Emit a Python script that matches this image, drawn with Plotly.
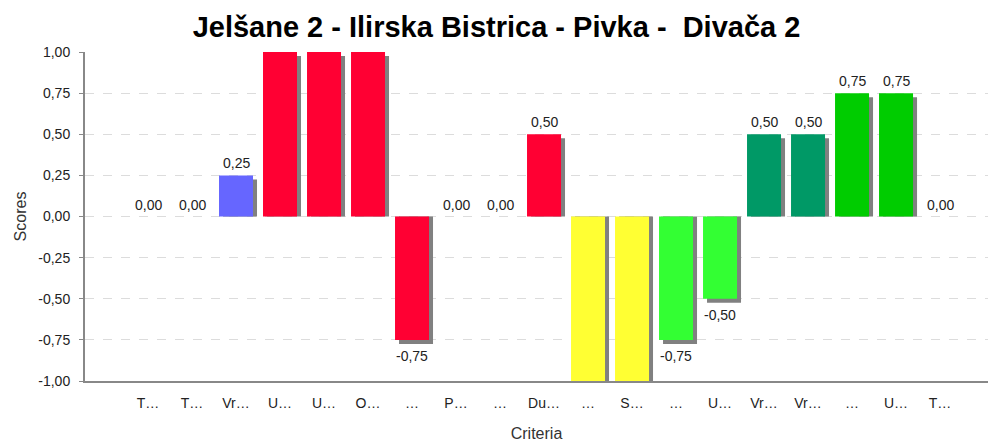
import plotly.graph_objects as go

# Criteria (abbreviated as they appear on the axis) and their scores
criteria = ["T…", "T…", "Vr…", "U…", "U…", "O…", "…", "P…", "…", "Du…",
            "…", "S…", "…", "U…", "Vr…", "Vr…", "…", "U…", "T…"]
scores = [0.00, 0.00, 0.25, 1.00, 1.00, 1.00, -0.75, 0.00, 0.00, 0.50,
          -1.00, -1.00, -0.75, -0.50, 0.50, 0.50, 0.75, 0.75, 0.00]
colors = ["#6666FF", "#6666FF", "#6666FF", "#FF0033", "#FF0033", "#FF0033",
          "#FF0033", "#FF0033", "#FF0033", "#FF0033", "#FFFF33", "#FFFF33",
          "#33FF33", "#33FF33", "#009966", "#009966", "#00CC00", "#00CC00",
          "#00CC00"]
y_ticks = [-1.0, -0.75, -0.5, -0.25, 0.0, 0.25, 0.5, 0.75, 1.0]

W, H = 993, 442
margin = dict(l=85, r=5, t=52, b=61)
plot_w = W - margin["l"] - margin["r"]
plot_h = H - margin["t"] - margin["b"]

x_range = [-1.432, 19.09]
y_range = [-1.0, 1.0]
px_x = plot_w / (x_range[1] - x_range[0])   # pixels per category
px_y = plot_h / (y_range[1] - y_range[0])   # pixels per score unit

bar_w = 34 / px_x
shadow_dx = 4 / px_x
shadow_dy = 4 / px_y

xs = list(range(len(criteria)))
FONT = "Liberation Sans, Arial, sans-serif"


def fmt(v):
    return f"{v:.2f}".replace(".", ",")


fig = go.Figure()

# drop shadow, pegged to the base line and shifted right/down
shadow_len = [v - shadow_dy if v != 0 else 0 for v in scores]
fig.add_trace(go.Bar(
    x=xs, y=shadow_len, base=0, width=bar_w, offset=-bar_w / 2 + shadow_dx,
    marker=dict(color="#808080", line=dict(width=0)),
    hoverinfo="skip", showlegend=False,
))

fig.add_trace(go.Bar(
    x=xs, y=scores, width=bar_w, offset=-bar_w / 2,
    marker=dict(color=colors, line=dict(width=0)),
    showlegend=False,
))

# value labels; those at the axis limits would sit outside the plot
annotations = []
for x, v in zip(xs, scores):
    if abs(v) >= 1:
        continue
    up = v >= 0
    annotations.append(dict(
        x=x, y=v, xref="x", yref="y", text=fmt(v), showarrow=False,
        yanchor="bottom" if up else "top", yshift=2 if up else -6,
        font=dict(family=FONT, size=14, color="#222"),
    ))

fig.update_layout(
    width=W, height=H, margin=margin,
    barmode="overlay",
    paper_bgcolor="white", plot_bgcolor="white",
    title=dict(text="<b>Jelšane 2 - Ilirska Bistrica - Pivka -  Divača 2</b>",
               x=0.5, xanchor="center", y=1 - 27 / H, yanchor="middle",
               font=dict(family=FONT, size=29, color="black")),
    font=dict(family=FONT, size=14, color="#333"),
    annotations=annotations,
)
fig.update_xaxes(
    range=x_range, tickmode="array", tickvals=xs, ticktext=criteria,
    showgrid=False, zeroline=False, showline=True, linecolor="#888",
    linewidth=2, ticks="", tickfont=dict(size=14, color="#222"),
    ticklabelstandoff=8, automargin=False,
    title=dict(text="Criteria", font=dict(size=16, color="#333"), standoff=20),
)
fig.update_yaxes(
    range=y_range, tickmode="array", tickvals=y_ticks,
    ticktext=[fmt(v) for v in y_ticks],
    showgrid=True, gridcolor="#dcdcdc", griddash="dash", gridwidth=1,
    zeroline=False, showline=True, linecolor="#888", linewidth=2,
    ticks="outside", ticklen=4, tickcolor="#888", ticklabelstandoff=6,
    tickfont=dict(size=14, color="#222"), automargin=False,
    title=dict(text="Scores", font=dict(size=16, color="#333"), standoff=8),
)

fig.write_html("out.html")
